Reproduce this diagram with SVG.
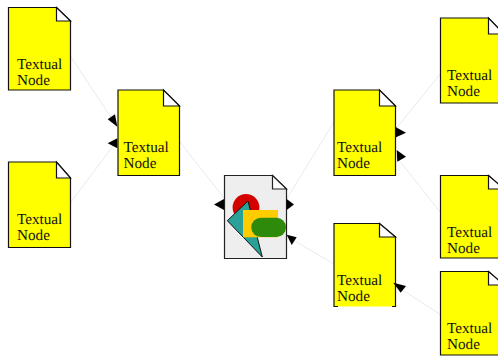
<svg xmlns="http://www.w3.org/2000/svg" width="498" height="356" viewBox="0 0 498 356">
<style>
.b{fill:#ff0;stroke:#111;stroke-width:1.2}
.f{fill:#fff;stroke:#111;stroke-width:1.2}
.t{font-family:"Liberation Serif",serif;font-size:15.200px;fill:#111;text-rendering:geometricPrecision}
.c{stroke:#e4e4e4;stroke-width:.8;fill:none}
.a{fill:#000}
</style>
<g id="connectors">
<path class="c" d="M71 57L116 125M71 202L116 142M180 142L224 198M286 200L334 122M286 236L334 264M395 130L441 73M395 155L441 213M395 285L441 315"/>
</g>
<g id="n1"><path class="b" d="M8.500 7.500H56.500L70.500 21V90H8.500Z"/><path class="f" d="M56.500 7.500L70.500 21H56.500Z"/><text class="t" x="17" y="69">Textual</text><text class="t" x="17" y="85">Node</text></g>
<g id="n2"><path class="b" d="M8.500 162H56.500L70.500 178V247.500H8.500Z"/><path class="f" d="M56.500 162L70.500 178H56.500Z"/><text class="t" x="17" y="224">Textual</text><text class="t" x="17" y="240">Node</text></g>
<g id="n3"><path class="b" d="M118 90H163.500L179.500 106V175.500H118Z"/><path class="f" d="M163.500 90L179.500 106H163.500Z"/><text class="t" x="123.500" y="152">Textual</text><text class="t" x="123.500" y="168">Node</text></g>
<g id="center"><path d="M224.500 175.500H272.500L286.500 189V258.500H224.500Z" fill="#eee" stroke="#222" stroke-width="1.2"/><path d="M272.500 175.500L286.500 189H272.500Z" fill="#fff" stroke="#222" stroke-width="1.2"/>
<circle cx="246" cy="207.500" r="13.400" fill="#d40000"/>
<path d="M227.300 220.700L248 201L262.300 257Z" fill="#2aa198" stroke="#111" stroke-width="1"/>
<rect x="243" y="210" width="35" height="27.300" fill="#fc0"/>
<rect x="251.300" y="217.700" width="34.700" height="19.300" rx="9.600" fill="#2d8a0a"/></g>
<g id="n4"><path class="b" d="M334 90H379.500L395.500 106V175.500H334Z"/><path class="f" d="M379.500 90L395.500 106H379.500Z"/><text class="t" x="337" y="152">Textual</text><text class="t" x="337" y="168">Node</text></g>
<g id="n5"><path d="M334 223.500H379.500L395.500 237V306.500H334Z" fill="#ff0"/><path class="b" style="fill:none" d="M338 306.500H334V223.500H379.500L395.500 237V306.500H392"/><path class="f" d="M379.500 223.500L395.500 237H379.500Z"/><text class="t" x="337" y="285">Textual</text><text class="t" x="337" y="301">Node</text></g>
<g id="n6"><path class="b" d="M440.500 18H488.500L504 34V103H440.500Z"/><path class="f" d="M488.500 18L504 34H488.500Z"/><text class="t" x="447" y="80">Textual</text><text class="t" x="447" y="96">Node</text></g>
<g id="n7"><path class="b" d="M440.500 175.500H488.500L504 189V258H440.500Z"/><path class="f" d="M488.500 175.500L504 189H488.500Z"/><text class="t" x="447" y="237">Textual</text><text class="t" x="447" y="253">Node</text></g>
<g id="n8"><path class="b" d="M440.500 271.500H488.500L504 285V355H440.500Z"/><path class="f" d="M488.500 271.500L504 285H488.500Z"/><text class="t" x="447" y="333">Textual</text><text class="t" x="447" y="349">Node</text></g>
<g id="arrowheads">
<path class="a" d="M117.300 126.700L107.700 119.300L115 114.300Z"/>
<path class="a" d="M117.300 138.300V148.300L107.700 143.300Z"/>
<path class="a" d="M224 199V210L214 204.500Z"/>
<path class="a" d="M286.700 199V210L294 204.500Z"/>
<path class="a" d="M286.700 234.700L296.700 237.300L291.700 245Z"/>
<path class="a" d="M396 127.300V137.300L406 132.700Z"/>
<path class="a" d="M396.700 150L406 156.700L397.300 161.700Z"/>
<path class="a" d="M393.300 282.700L406 286L400.700 292.700Z"/>
</g>
</svg>
